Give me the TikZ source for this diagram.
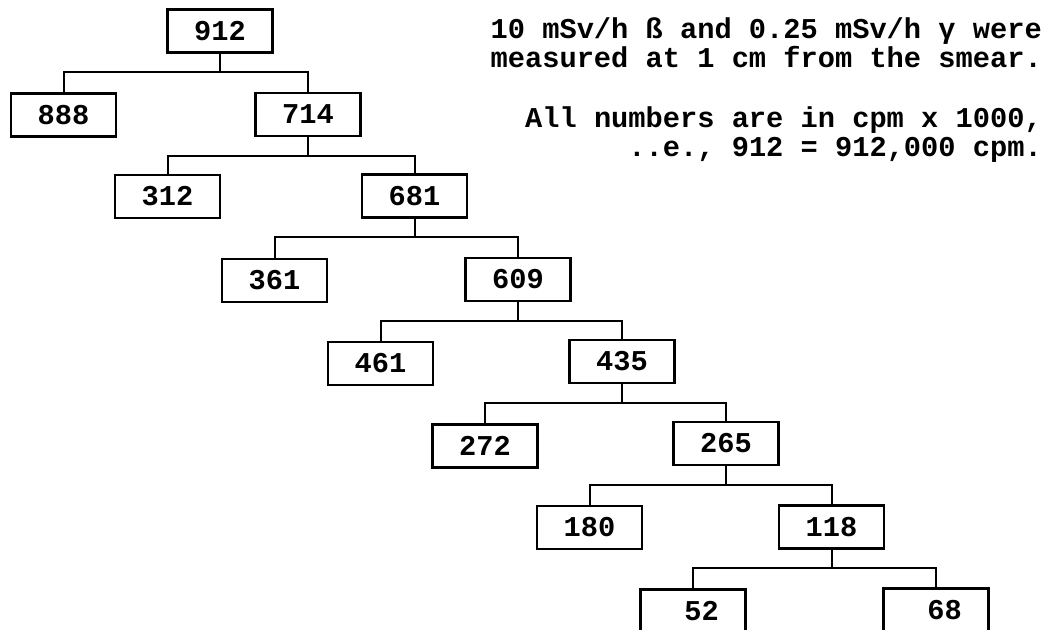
\documentclass[tikz,border=0pt]{standalone}
\usepackage{fontspec}
\newfontfamily\typefont{Liberation Mono}
\newcommand\numfont{\typefont\bfseries\fontsize{28.7}{29}\selectfont}
\begin{document}
\begin{tikzpicture}[x=1pt,y=-1pt,
  numbox/.style={draw, line width=2.3pt, minimum width=105pt, minimum height=43pt,
                 inner sep=0pt, outer sep=0pt, font=\numfont},
  link/.style={line width=2pt},
  note/.style={anchor=base east, inner sep=0pt, font=\numfont}]
\useasboundingbox (0,0) rectangle (1048,629);
\fill[white] (0,0) rectangle (1048,629);

% count tree, one level per row
\node[numbox] (n912) at (220,31)     {912};
\node[numbox] (n888) at (63.5,115)   {888};
\node[numbox] (n714) at (308,114.5)  {714};
\node[numbox] (n312) at (167.5,196.5){312};
\node[numbox] (n681) at (414.5,196)  {681};
\node[numbox] (n361) at (274.5,280.5){361};
\node[numbox] (n609) at (518,279.5)  {609};
\node[numbox] (n461) at (380.5,363.5){461};
\node[numbox] (n435) at (622,361.5)  {435};
\node[numbox] (n272) at (485,446)    {272};
\node[numbox] (n265) at (726,443.5)  {265};
\node[numbox] (n180) at (589.5,527.5){180};
\node[numbox] (n118) at (831.5,527)  {118};
\node[numbox] (n52)  at (693,611)    {\kern0.6em 52};
\node[numbox] (n68)  at (936,610)    {\kern0.6em 68};

% elbow connectors: parent stem, bar, legs to both children
\foreach \p/\a/\b in {n912/n888/n714, n714/n312/n681, n681/n361/n609,
                      n609/n461/n435, n435/n272/n265, n265/n180/n118,
                      n118/n52/n68} {
  \draw[link] (\p.south) -- ++(0,19.5) coordinate (\p-j);
  \draw[link] (\a.north) |- (\p-j) -| (\b.north);
}

% notes
\node[note] (l1) at (1042,38)  {10 mSv/h ß and 0.25 mSv/h γ were};
\node[note] (l2) at (1042,67)  {measured at 1 cm from the smear.};
\node[note] (l3) at (1042,127) {All numbers are in cpm x 1000,};
\node[note] (l4) at (1042,156) {..e., 912 = 912,000 cpm.};
\end{tikzpicture}
\end{document}
